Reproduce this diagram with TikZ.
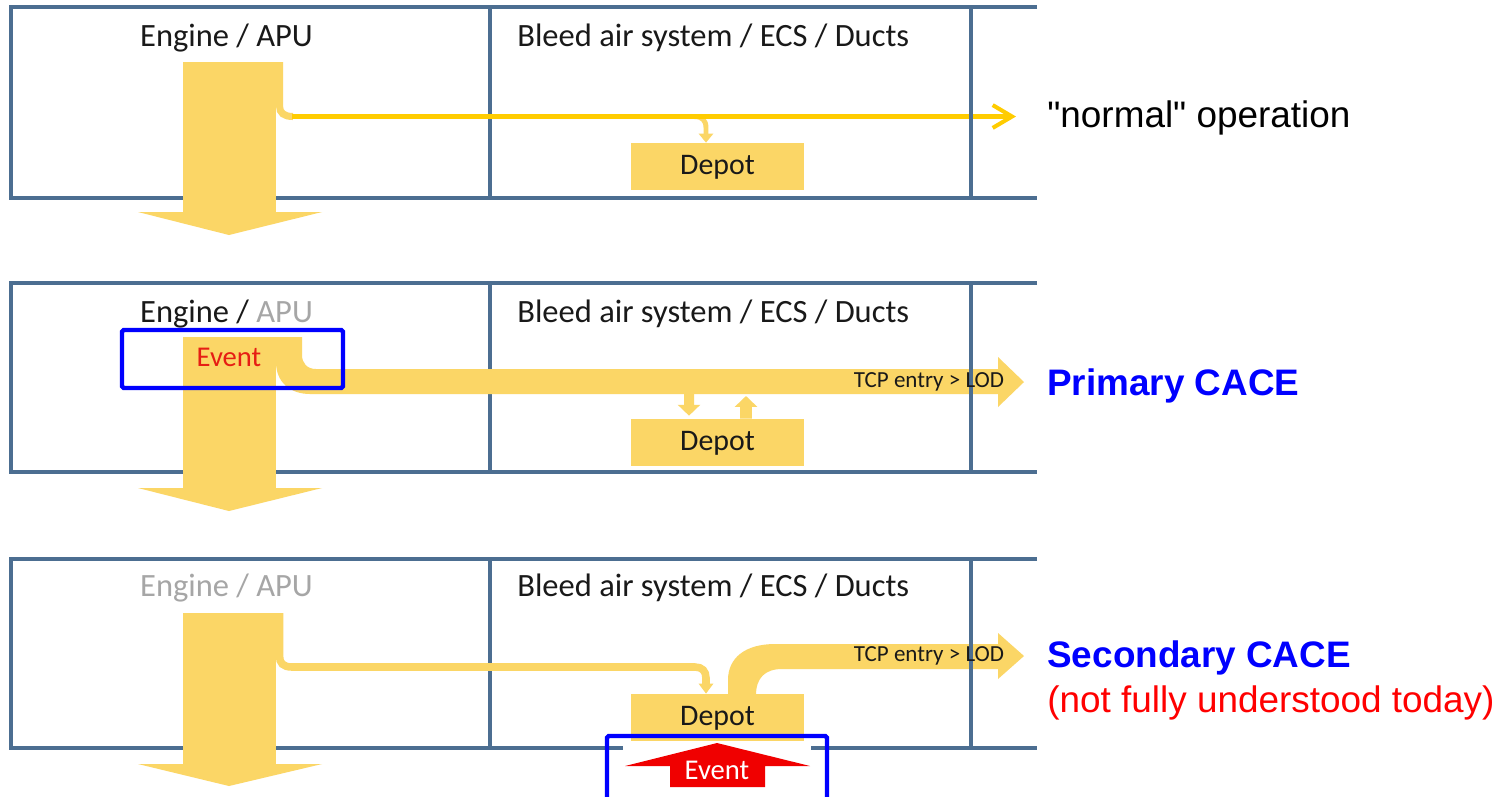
\documentclass[tikz,border=0pt]{standalone}
\usepackage{fontspec}
\setmainfont{Carlito}
\newfontfamily\arialf{Liberation Sans}
\usetikzlibrary{arrows.meta}
\definecolor{ycol}{RGB}{251,214,102}
\definecolor{ybright}{RGB}{255,204,0}
\definecolor{pcol}{RGB}{76,110,145}
\definecolor{bbox}{RGB}{0,0,255}
\definecolor{evred}{RGB}{230,30,20}
\definecolor{arrred}{RGB}{240,0,0}
\definecolor{gtxt}{RGB}{166,166,166}
\definecolor{ctxt}{RGB}{25,25,25}
\begin{document}
\begin{tikzpicture}[x=0.02cm,y=-0.02cm,
  panel/.style={draw=pcol,line width=2pt},
  ttl/.style={font=\fontsize{18.5}{22}\selectfont,inner sep=0,text=ctxt},
  depot/.style={fill=ycol,minimum width=3.46cm,minimum height=0.94cm,inner sep=0,text depth=1.5pt,font=\fontsize{17}{20}\selectfont,text=ctxt},
  tcp/.style={font=\fontsize{13.1}{15}\selectfont,inner sep=0,text=ctxt},
  evt/.style={font=\fontsize{16.3}{19}\selectfont,inner sep=0},
  side/.style={font=\arialf\fontsize{21}{25}\selectfont,inner sep=0,anchor=base west},
  sideb/.style={side,font=\arialf\bfseries\fontsize{21}{25}\selectfont,text=bbox},
  bluebox/.style={draw=bbox,line width=2.5pt,rounded corners=1pt},
  ]
\useasboundingbox (0,0) rectangle (1511,796);
\fill[white] (0,0) rectangle (1511,796);

% panel frames
\foreach \ya/\yb in {7/198,283/472}{
  \draw[panel] (1037,\ya) -- (11,\ya) -- (11,\yb) -- (1037,\yb);
  \draw[panel] (490,\ya) -- (490,\yb);
}
\draw[panel] (1037,559) -- (11,559) -- (11,748) -- (623,748);
\draw[panel] (811,748) -- (1037,748);
\draw[panel] (490,559) -- (490,748);

% depots
\node[depot] (d1) at (717.5,166.5) {Depot};
\node[depot] (d2) at (717.5,442.5) {Depot};
\node[depot] (d3) at (717.5,717.5) {Depot};

% ---- panel 1 flows
\fill[ycol] (183,62) rectangle (276,212);
\fill[ycol] (138,212) -- (322,212) -- (229,235) -- cycle;
\draw[ycol,line width=4pt] (279.5,62) -- (279.5,106) .. controls (279.5,113) and (284,116.5) .. (293,116.5);
\coordinate (n1s) at (292,116.5);
\coordinate (n1e) at (1016,116.5);
\coordinate (n1d) at (694,116.5);
\draw[ycol,line width=2.8pt,-{Triangle[length=5.1pt,width=8pt]}] (n1d) .. controls (702,116.5) and (706,120) .. (706,128) -- ([xshift=-0.23cm]d1.north);
\draw[ybright,line width=2.3pt,-{Straight Barb[length=11pt,width=13pt]}] (n1s) -- (n1e);

% ---- panel 2 flows
\fill[ycol] (183,337) rectangle (276,488);
\fill[ycol] (138,488) -- (322,488) -- (229,511) -- cycle;
\fill[ycol] (276,337) -- (302,337) -- (302,355) .. controls (302,363) and (307,369) .. (316,369) -- (998,369) -- (998,357) -- (1024,382) -- (998,407) -- (998,394) -- (310,394) .. controls (290,394) and (276,382) .. (276,362) -- cycle;
\coordinate (n2d) at (689,393);
\coordinate (n2u) at (746,396);
\draw[ycol,line width=5.7pt,-{Triangle[length=6.2pt,width=12.5pt]}] (n2d) -- ([xshift=-0.57cm,yshift=0.06cm]d2.north);
\draw[ycol,line width=6.8pt,-{Triangle[length=6.2pt,width=12.5pt]}] ([xshift=0.57cm]d2.north) -- (n2u);

% ---- panel 3 flows
\fill[ycol] (183,613) rectangle (276,764);
\fill[ycol] (138,764) -- (322,764) -- (229,786) -- cycle;
\coordinate (n3s) at (279.5,613);
\draw[ycol,line width=4.3pt,-{Triangle[length=5.7pt,width=8pt]}] (n3s) -- (279.5,656) .. controls (279.5,663) and (283,667) .. (292,667) -- (695,667) .. controls (702,667) and (706,671) .. (706,678) -- ([xshift=-0.23cm]d3.north);
\fill[ycol] (728,695) -- (728,680) .. controls (728,658) and (745,644) .. (775,644) -- (998,644) -- (998,633) -- (1024,656) -- (998,679) -- (998,669) -- (782,669) .. controls (765,669) and (756,678) .. (756,695) -- cycle;

% dividers over the flows
\foreach \ya/\yb in {7/198,283/472,559/748}{
  \draw[panel] (971,\ya) -- (971,\yb);
}

% titles
\node[ttl,anchor=base] (e1) at (226.5,46) {Engine / APU};
\node[ttl,anchor=base west] (b1) at (517,46) {Bleed air system / ECS / Ducts};
\node[ttl,anchor=base] (e2) at (226.5,322) {Engine / \textcolor{gtxt}{APU}};
\node[ttl,anchor=base west] (b2) at (517,322) {Bleed air system / ECS / Ducts};
\node[ttl,anchor=base,text=gtxt] (e3) at (226.5,596) {Engine / APU};
\node[ttl,anchor=base west] (b3) at (517,596) {Bleed air system / ECS / Ducts};

\node[tcp] (t2) at (929,382) {TCP entry > LOD};
\node[tcp] (t3) at (929,656) {TCP entry > LOD};

% events
\node[evt,text=evred] (ev2) at (229,357) {Event};
\draw[bluebox] (122,330) rectangle (343,388);

\fill[arrred] (670,787) -- (670,766) -- (625,766) -- (717,743) -- (810,766) -- (765,766) -- (765,787) -- cycle;
\node[evt,text=white] (ev3) at (717,770) {Event};
\draw[bluebox] (607,736) rectangle (827,812);

% side labels
\node[side] (s1) at (1047,127) {"normal" operation};
\node[sideb] (s2) at (1047,395) {Primary CACE};
\node[sideb] (s3) at (1047,667) {Secondary CACE};
\node[side,text=red] (s4) at (1047,712) {(not fully understood today)};
\end{tikzpicture}
\end{document}
